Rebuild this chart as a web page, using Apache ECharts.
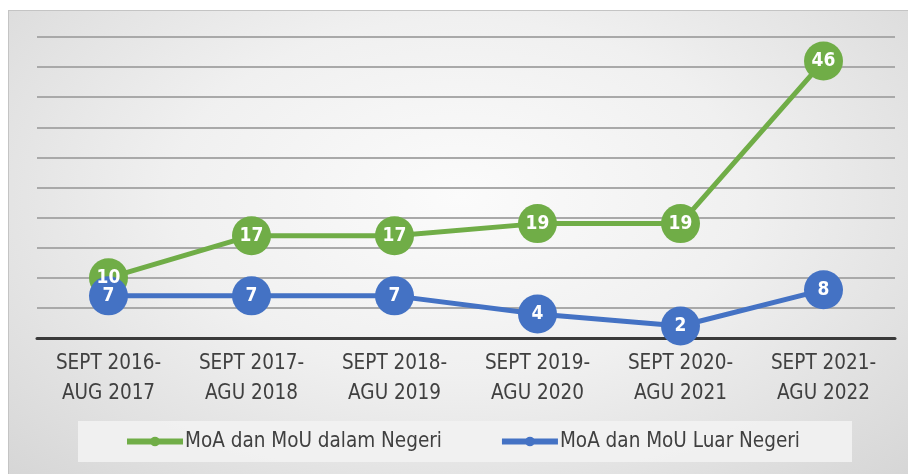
<!DOCTYPE html>
<html>
<head>
<meta charset="utf-8">
<script src="https://cdn.jsdelivr.net/npm/echarts@6/dist/echarts.min.js"></script>
<style>
  html, body { margin: 0; padding: 0; background: #fff; }
  #bg {
    position: absolute; left: 8px; top: 10px; width: 900px; height: 464px;
    background: radial-gradient(ellipse at 50% 40%, #fbfbfb 0%, #f0f0f0 45%, #d6d6d6 100%);
    border-top: 1px solid #c4c4c4; border-left: 1px solid #c4c4c4;
  }
  #chart { position: absolute; left: 0; top: 0; width: 908px; height: 474px; }
</style>
</head>
<body>
<div id="bg"></div>
<div id="chart"></div>
<script>
const categories = [
  "SEPT 2016-\nAUG 2017",
  "SEPT 2017-\nAGU 2018",
  "SEPT 2018-\nAGU 2019",
  "SEPT 2019-\nAGU 2020",
  "SEPT 2020-\nAGU 2021",
  "SEPT 2021-\nAGU 2022"
];
const dalamNegeri = [10, 17, 17, 19, 19, 46];
const luarNegeri = [7, 7, 7, 4, 2, 8];

const narrow = "'DejaVu Sans Condensed', 'Liberation Sans Narrow', 'Liberation Sans', sans-serif";
const chart = echarts.init(document.querySelector("#chart"));

function lineSeries(name, data, color) {
  return {
    name,
    type: "line",
    data,
    symbol: "circle",
    symbolSize: 39,
    lineStyle: { width: 5, color },
    itemStyle: { color },
    label: {
      show: true,
      position: "inside",
      color: "#fff",
      fontFamily: narrow,
      fontWeight: "bold",
      fontSize: 19
    }
  };
}

chart.setOption({
  backgroundColor: "transparent",
  animation: false,
  grid: { left: 37, right: 13, top: 37, bottom: 136 },
  legend: {
    bottom: 12,
    left: 78,
    backgroundColor: "rgba(242,242,242,0.9)",
    padding: [10, 52, 10, 46],
    itemGap: 57,
    itemWidth: 56,
    itemHeight: 12,
    lineStyle: { width: 6 },
    textStyle: { fontFamily: narrow, fontSize: 20.5, color: "#404040", padding: [0, 0, 0, -3] },
    data: ["MoA dan MoU dalam Negeri", "MoA dan MoU Luar Negeri"]
  },
  xAxis: {
    type: "category",
    data: categories,
    boundaryGap: true,
    axisLine: { lineStyle: { color: "#3a3a3a", width: 3 } },
    axisTick: { show: false },
    axisLabel: {
      margin: 11,
      fontFamily: narrow,
      fontSize: 20.5,
      lineHeight: 30,
      color: "#404040"
    }
  },
  yAxis: {
    type: "value",
    min: 0,
    max: 50,
    interval: 5,
    axisLabel: { show: false },
    axisLine: { show: false },
    axisTick: { show: false },
    splitLine: { lineStyle: { color: "#a9a9a9", width: 2 } }
  },
  series: [
    lineSeries("MoA dan MoU dalam Negeri", dalamNegeri, "#70ad47"),
    lineSeries("MoA dan MoU Luar Negeri", luarNegeri, "#4472c4")
  ]
});
</script>
</body>
</html>
